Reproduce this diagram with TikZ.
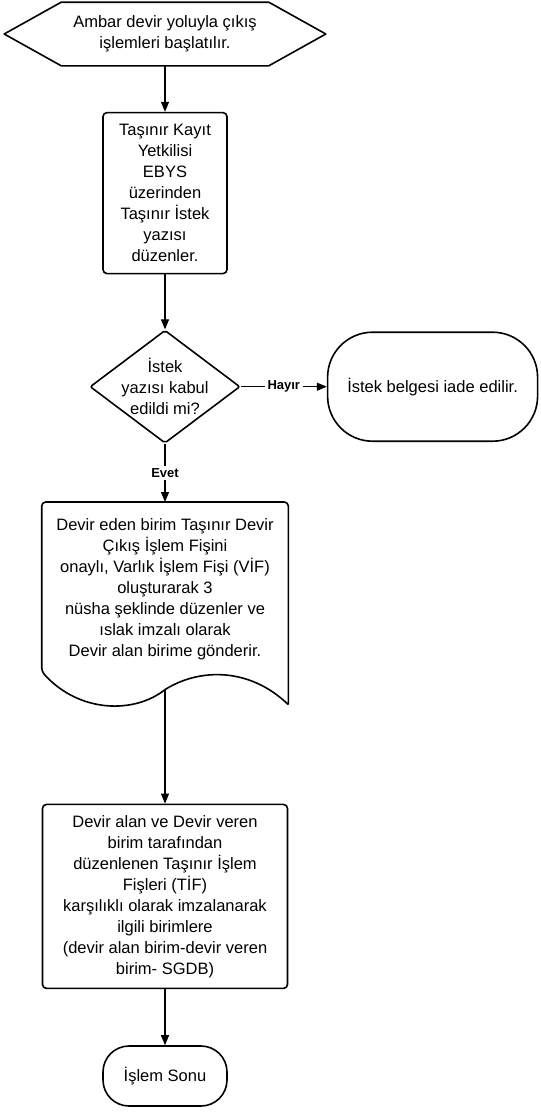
\documentclass[tikz,border=0pt]{standalone}
\usepackage{fontspec}
\setmainfont{Liberation Sans}
\usepackage{tikz}
\usetikzlibrary{arrows.meta, positioning, shapes.geometric}
\tikzset{
  flowBox/.style={draw, line width=1.6pt, rounded corners=4pt, align=center, inner sep=4pt,
    font=\fontsize{16.5}{21}\selectfont},
  flowLine/.style={line width=1.6pt, line join=round},
  flowEdge/.style={->, line width=1.1pt},
  edgeLabel/.style={fill=white, inner sep=2.5pt, font=\fontsize{13}{15}\selectfont\bfseries}
}

\begin{document}
\begin{tikzpicture}[>={Triangle[length=10pt,width=8pt]}, x=1pt, y=1pt, node distance=50pt]
\useasboundingbox (0,0) rectangle (541,-1112);
\node[flowBox, draw=none, minimum width=320pt, minimum height=62pt] (start) at (165,-34) {Ambar devir yoluyla çıkış\\işlemleri başlatılır.};
% hexagon round the start text
\draw[flowLine] (start.west) -- ([xshift=57pt]start.north west) -- ([xshift=-57pt]start.north east) -- (start.east)
  -- ([xshift=-57pt]start.south east) -- ([xshift=57pt]start.south west) -- cycle;
\node[flowBox, minimum width=124pt, minimum height=161pt, below=46pt of start] (req) {Taşınır Kayıt\\Yetkilisi\\EBYS\\üzerinden\\Taşınır İstek\\yazısı\\düzenler.};
\node[flowBox, diamond, rounded corners=2pt, aspect=1.33, inner sep=-3pt, minimum width=150pt, minimum height=113pt, below=55pt of req] (check) {İstek\\yazısı kabul\\edildi mi?};
\node[flowBox, rounded corners=45pt, minimum width=210pt, minimum height=109pt, right=86pt of check] (ret) {İstek belgesi iade edilir.};
\node[flowBox, draw=none, minimum width=245pt, minimum height=172pt, below=58pt of check] (vif) {Devir eden birim Taşınır Devir\\Çıkış İşlem Fişini\\onaylı, Varlık İşlem Fişi (VİF)\\oluşturarak 3\\nüsha şeklinde düzenler ve\\ıslak imzalı olarak\\Devir alan birime gönderir.};
\coordinate (vifw) at ([yshift=-14pt]vif.south);
% document outline with wavy bottom
\draw[flowLine, rounded corners=4pt] ([yshift=-29pt]vif.south east) -- (vif.north east) -- (vif.north west) -- ([yshift=4pt]vif.south west) [sharp corners]
  .. controls ([xshift=-85pt,yshift=-38pt]vif.south) and ([xshift=-30pt,yshift=-38pt]vif.south) .. (vifw)
  .. controls ([xshift=35pt,yshift=8pt]vif.south) and ([xshift=85pt,yshift=8pt]vif.south) .. ([yshift=-29pt]vif.south east);
\node[flowBox, minimum width=245pt, minimum height=184pt, below=114pt of vifw] (tif) {Devir alan ve Devir veren\\birim tarafından\\düzenlenen Taşınır İşlem\\Fişleri (TİF)\\karşılıklı olarak imzalanarak\\ilgili birimlere\\(devir alan birim-devir veren\\birim- SGDB)};
\node[flowBox, rounded corners=26pt, minimum width=124pt, minimum height=60pt, below=56pt of tif] (stop) {İşlem Sonu};
\draw[flowEdge] (start) -- (req);
\draw[flowEdge] (req) -- (check);
\draw[flowEdge] (check) -- node[edgeLabel]{Hayır} (ret);
\draw[flowEdge] (check) -- node[edgeLabel]{Evet} (vif);
\draw[flowEdge] (vifw) -- (tif);
\draw[flowEdge] (tif) -- (stop);
\end{tikzpicture}
\end{document}
